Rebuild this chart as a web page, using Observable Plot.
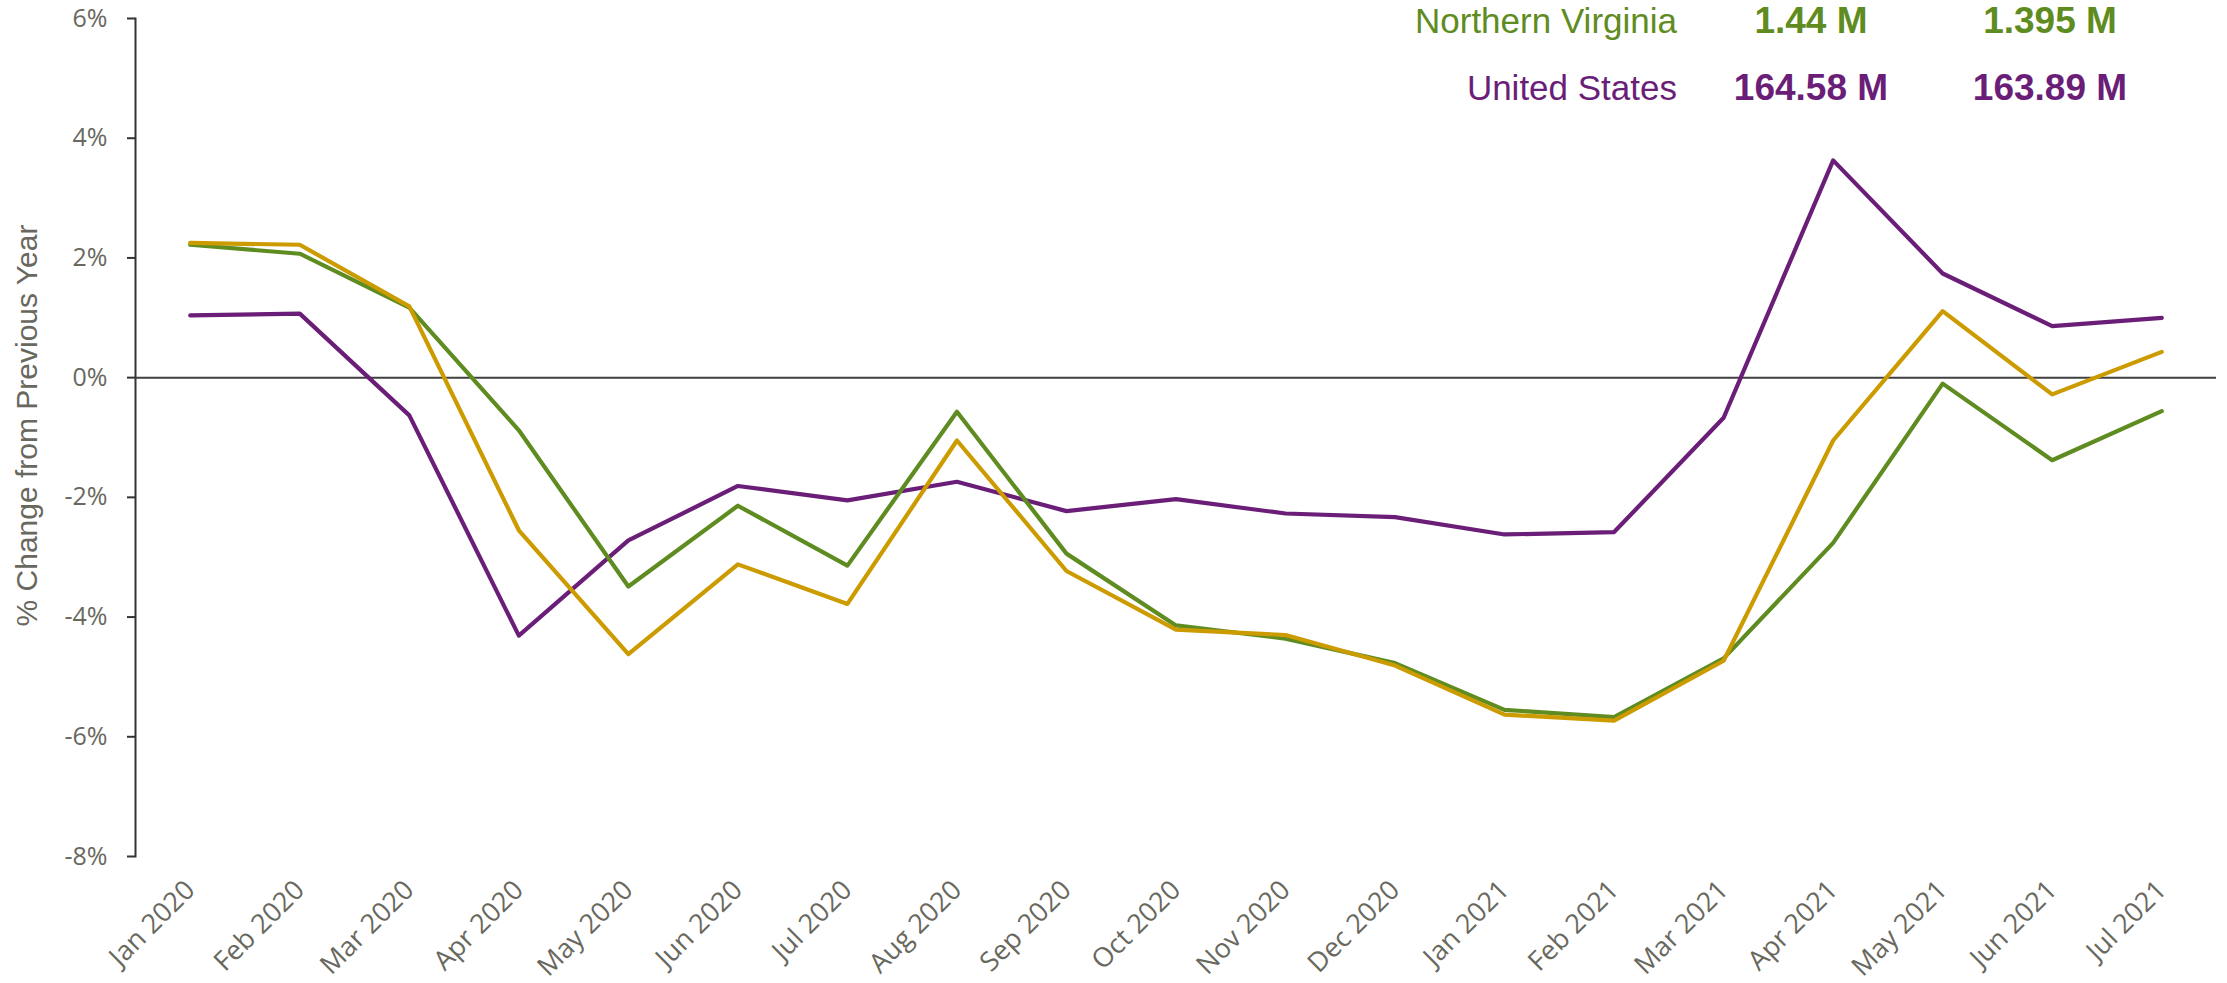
<!DOCTYPE html>
<html>
<head>
<meta charset="utf-8">
<script src="https://cdn.jsdelivr.net/npm/d3@7"></script>
<script src="https://cdn.jsdelivr.net/npm/@observablehq/plot@0.6"></script>
<style>
  html, body { margin: 0; padding: 0; background: #fff; }
  #wrap { position: relative; width: 2227px; height: 983px; }
  #legend { position: absolute; left: 0; top: 0; pointer-events: none; }
</style>
</head>
<body>
<div id="wrap"></div>
<script>
// ---- data ----
const months = ["Jan 2020","Feb 2020","Mar 2020","Apr 2020","May 2020","Jun 2020","Jul 2020","Aug 2020","Sep 2020","Oct 2020","Nov 2020","Dec 2020","Jan 2021","Feb 2021","Mar 2021","Apr 2021","May 2021","Jun 2021","Jul 2021"];
const northernVirginia = [2.22, 2.07, 1.17, -0.88, -3.49, -2.14, -3.14, -0.57, -2.94, -4.14, -4.36, -4.77, -5.55, -5.67, -4.69, -2.76, -0.10, -1.38, -0.56];
const goldSeries = [2.25, 2.22, 1.19, -2.55, -4.62, -3.12, -3.78, -1.05, -3.23, -4.21, -4.30, -4.81, -5.63, -5.73, -4.73, -1.05, 1.11, -0.28, 0.43];
const unitedStates = [1.04, 1.07, -0.63, -4.31, -2.72, -1.81, -2.05, -1.74, -2.23, -2.03, -2.27, -2.33, -2.62, -2.58, -0.67, 3.63, 1.74, 0.86, 1.00];
const yTicks = [-8, -6, -4, -2, 0, 2, 4, 6];
const yTitle = "% Change from Previous Year";

const legendNames = ["Northern Virginia", "United States"];
const legendValues1 = ["1.44 M", "164.58 M"];
const legendValues2 = ["1.395 M", "163.89 M"];

const GREEN = "#5F8C20", GOLD = "#CC9B00", PURPLE = "#6A1E78", GRAY = "#68685E";
const legendColors = [GREEN, PURPLE];

const toRows = (vals) => months.map((m, i) => ({month: m, value: vals[i]}));

const chart = Plot.plot({
  width: 2227,
  height: 983,
  marginLeft: 135,
  marginRight: 11,
  marginTop: 18,
  marginBottom: 127,
  style: {background: "#fff", fontFamily: "'Open Sans', sans-serif"},
  x: {type: "point", domain: months, padding: 0.5, round: false},
  y: {domain: [-8, 6]},
  marks: [
    Plot.frame({anchor: "left", stroke: "#333", strokeWidth: 2}),
    Plot.axisY({ticks: yTicks, tickFormat: d => d + "%", tickSize: 8, tickPadding: 20, fontSize: 25, fill: GRAY, stroke: "#333", strokeWidth: 2, label: null}),
    Plot.axisX({tickRotate: -45, tickSize: 0, tickPadding: 29, fontSize: 27, fill: GRAY, label: null}),
    Plot.text([yTitle], {frameAnchor: "left", text: d => d, rotate: -90, dx: -108, dy: -12, fontSize: 30, fill: GRAY, fontFamily: "'Liberation Sans', Arial, sans-serif", textAnchor: "middle", lineAnchor: "middle"}),
    Plot.ruleY([0], {stroke: "#404040", strokeWidth: 2}),
    Plot.line(toRows(unitedStates), {x: "month", y: "value", stroke: PURPLE, strokeWidth: 4.2}),
    Plot.line(toRows(northernVirginia), {x: "month", y: "value", stroke: GREEN, strokeWidth: 4.2}),
    Plot.line(toRows(goldSeries), {x: "month", y: "value", stroke: GOLD, strokeWidth: 4.2})
  ]
});
const wrap = document.getElementById("wrap");
wrap.appendChild(chart);

// legend overlay (table at top right)
const leg = d3.select(wrap).append("svg").attr("id", "legend").attr("width", 2227).attr("height", 120);
const rowY = [33, 100];
const legFont = "'Liberation Sans', Arial, sans-serif";
legendNames.forEach((name, i) => {
  leg.append("text").attr("x", 1677).attr("y", rowY[i]).attr("text-anchor", "end")
    .attr("fill", legendColors[i]).attr("font-family", legFont).attr("font-size", 35).text(name);
  leg.append("text").attr("x", 1811).attr("y", rowY[i]).attr("text-anchor", "middle")
    .attr("fill", legendColors[i]).attr("font-family", legFont).attr("font-weight", "bold").attr("font-size", 37).text(legendValues1[i]);
  leg.append("text").attr("x", 2050).attr("y", rowY[i]).attr("text-anchor", "middle")
    .attr("fill", legendColors[i]).attr("font-family", legFont).attr("font-weight", "bold").attr("font-size", 37).text(legendValues2[i]);
});
</script>
</body>
</html>
